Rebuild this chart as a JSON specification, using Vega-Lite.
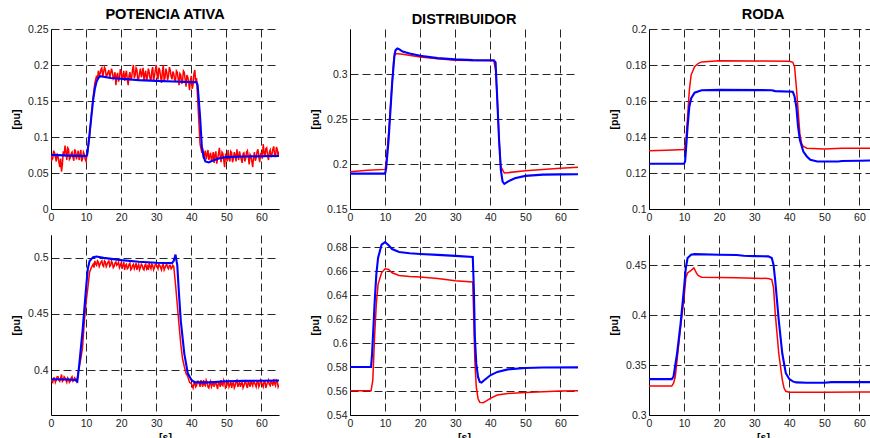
{
"$schema": "https://vega.github.io/schema/vega-lite/v6.json",
"padding": {"left": 11, "top": 6, "right": 0, "bottom": 0},
"columns": 3,
"spacing": {"row": 26, "column": 71},
"bounds": "flush",
"datasets": {
"p1": [
{"t":0,"v":0.075,"s":"medido"},{"t":0.5,"v":0.070,"s":"medido"},{"t":1,"v":0.078,"s":"medido"},{"t":1.5,"v":0.066,"s":"medido"},{"t":2,"v":0.073,"s":"medido"},{"t":2.5,"v":0.058,"s":"medido"},{"t":3,"v":0.052,"s":"medido"},{"t":3.5,"v":0.080,"s":"medido"},{"t":4,"v":0.088,"s":"medido"},{"t":4.5,"v":0.068,"s":"medido"},{"t":5,"v":0.083,"s":"medido"},{"t":5.5,"v":0.071,"s":"medido"},{"t":6,"v":0.079,"s":"medido"},{"t":6.5,"v":0.067,"s":"medido"},{"t":7,"v":0.080,"s":"medido"},{"t":7.5,"v":0.074,"s":"medido"},{"t":8,"v":0.068,"s":"medido"},{"t":8.5,"v":0.082,"s":"medido"},{"t":9,"v":0.070,"s":"medido"},{"t":9.5,"v":0.076,"s":"medido"},{"t":10,"v":0.066,"s":"medido"},{"t":10.5,"v":0.080,"s":"medido"},{"t":11,"v":0.100,"s":"medido"},{"t":11.5,"v":0.130,"s":"medido"},{"t":12,"v":0.155,"s":"medido"},{"t":12.5,"v":0.175,"s":"medido"},{"t":13,"v":0.185,"s":"medido"},{"t":13.5,"v":0.192,"s":"medido"},{"t":14,"v":0.188,"s":"medido"},{"t":14.5,"v":0.196,"s":"medido"},{"t":15,"v":0.190,"s":"medido"},{"t":15.5,"v":0.194,"s":"medido"},{"t":16,"v":0.186,"s":"medido"},{"t":16.5,"v":0.193,"s":"medido"},{"t":17,"v":0.188,"s":"medido"},{"t":17.5,"v":0.190,"s":"medido"},{"t":18,"v":0.183,"s":"medido"},{"t":18.5,"v":0.172,"s":"medido"},{"t":19,"v":0.189,"s":"medido"},{"t":19.5,"v":0.181,"s":"medido"},{"t":20,"v":0.191,"s":"medido"},{"t":20.5,"v":0.185,"s":"medido"},{"t":21,"v":0.178,"s":"medido"},{"t":21.5,"v":0.192,"s":"medido"},{"t":22,"v":0.172,"s":"medido"},{"t":22.5,"v":0.190,"s":"medido"},{"t":23,"v":0.183,"s":"medido"},{"t":23.5,"v":0.200,"s":"medido"},{"t":24,"v":0.186,"s":"medido"},{"t":24.5,"v":0.193,"s":"medido"},{"t":25,"v":0.181,"s":"medido"},{"t":25.5,"v":0.195,"s":"medido"},{"t":26,"v":0.188,"s":"medido"},{"t":26.5,"v":0.179,"s":"medido"},{"t":27,"v":0.192,"s":"medido"},{"t":27.5,"v":0.184,"s":"medido"},{"t":28,"v":0.190,"s":"medido"},{"t":28.5,"v":0.178,"s":"medido"},{"t":29,"v":0.197,"s":"medido"},{"t":29.5,"v":0.185,"s":"medido"},{"t":30,"v":0.200,"s":"medido"},{"t":30.5,"v":0.180,"s":"medido"},{"t":31,"v":0.193,"s":"medido"},{"t":31.5,"v":0.175,"s":"medido"},{"t":32,"v":0.200,"s":"medido"},{"t":32.5,"v":0.182,"s":"medido"},{"t":33,"v":0.190,"s":"medido"},{"t":33.5,"v":0.185,"s":"medido"},{"t":34,"v":0.193,"s":"medido"},{"t":34.5,"v":0.180,"s":"medido"},{"t":35,"v":0.188,"s":"medido"},{"t":35.5,"v":0.178,"s":"medido"},{"t":36,"v":0.190,"s":"medido"},{"t":36.5,"v":0.172,"s":"medido"},{"t":37,"v":0.186,"s":"medido"},{"t":37.5,"v":0.178,"s":"medido"},{"t":38,"v":0.190,"s":"medido"},{"t":38.5,"v":0.170,"s":"medido"},{"t":39,"v":0.183,"s":"medido"},{"t":39.5,"v":0.165,"s":"medido"},{"t":40,"v":0.185,"s":"medido"},{"t":40.5,"v":0.172,"s":"medido"},{"t":41,"v":0.193,"s":"medido"},{"t":41.5,"v":0.182,"s":"medido"},{"t":42,"v":0.135,"s":"medido"},{"t":42.5,"v":0.090,"s":"medido"},{"t":43,"v":0.078,"s":"medido"},{"t":43.5,"v":0.070,"s":"medido"},{"t":44,"v":0.081,"s":"medido"},{"t":44.5,"v":0.075,"s":"medido"},{"t":45,"v":0.068,"s":"medido"},{"t":45.5,"v":0.078,"s":"medido"},{"t":46,"v":0.072,"s":"medido"},{"t":46.5,"v":0.064,"s":"medido"},{"t":47,"v":0.080,"s":"medido"},{"t":47.5,"v":0.070,"s":"medido"},{"t":48,"v":0.085,"s":"medido"},{"t":48.5,"v":0.065,"s":"medido"},{"t":49,"v":0.077,"s":"medido"},{"t":49.5,"v":0.058,"s":"medido"},{"t":50,"v":0.073,"s":"medido"},{"t":50.5,"v":0.082,"s":"medido"},{"t":51,"v":0.066,"s":"medido"},{"t":51.5,"v":0.078,"s":"medido"},{"t":52,"v":0.070,"s":"medido"},{"t":52.5,"v":0.075,"s":"medido"},{"t":53,"v":0.083,"s":"medido"},{"t":53.5,"v":0.068,"s":"medido"},{"t":54,"v":0.074,"s":"medido"},{"t":54.5,"v":0.064,"s":"medido"},{"t":55,"v":0.078,"s":"medido"},{"t":55.5,"v":0.070,"s":"medido"},{"t":56,"v":0.081,"s":"medido"},{"t":56.5,"v":0.062,"s":"medido"},{"t":57,"v":0.074,"s":"medido"},{"t":57.5,"v":0.058,"s":"medido"},{"t":58,"v":0.079,"s":"medido"},{"t":58.5,"v":0.071,"s":"medido"},{"t":59,"v":0.083,"s":"medido"},{"t":59.5,"v":0.065,"s":"medido"},{"t":60,"v":0.078,"s":"medido"},{"t":60.5,"v":0.090,"s":"medido"},{"t":61,"v":0.073,"s":"medido"},{"t":61.5,"v":0.085,"s":"medido"},{"t":62,"v":0.068,"s":"medido"},{"t":62.5,"v":0.082,"s":"medido"},{"t":63,"v":0.076,"s":"medido"},{"t":63.5,"v":0.087,"s":"medido"},{"t":64,"v":0.072,"s":"medido"},{"t":64.5,"v":0.083,"s":"medido"},{"t":65,"v":0.080,"s":"medido"},
{"t":0.25,"v":0.068,"s":"medido"},{"t":0.75,"v":0.081,"s":"medido"},{"t":1.25,"v":0.072,"s":"medido"},{"t":1.75,"v":0.077,"s":"medido"},{"t":2.25,"v":0.065,"s":"medido"},{"t":2.75,"v":0.070,"s":"medido"},{"t":3.25,"v":0.062,"s":"medido"},{"t":3.75,"v":0.075,"s":"medido"},{"t":4.25,"v":0.079,"s":"medido"},{"t":4.75,"v":0.085,"s":"medido"},{"t":5.25,"v":0.069,"s":"medido"},{"t":5.75,"v":0.077,"s":"medido"},{"t":6.25,"v":0.072,"s":"medido"},{"t":6.75,"v":0.083,"s":"medido"},{"t":7.25,"v":0.069,"s":"medido"},{"t":7.75,"v":0.081,"s":"medido"},{"t":8.25,"v":0.075,"s":"medido"},{"t":8.75,"v":0.066,"s":"medido"},{"t":9.25,"v":0.079,"s":"medido"},{"t":9.75,"v":0.069,"s":"medido"},{"t":10.25,"v":0.075,"s":"medido"},
{"t":13.25,"v":0.180,"s":"medido"},{"t":13.75,"v":0.186,"s":"medido"},{"t":14.25,"v":0.194,"s":"medido"},{"t":14.75,"v":0.183,"s":"medido"},{"t":15.25,"v":0.197,"s":"medido"},{"t":15.75,"v":0.184,"s":"medido"},{"t":16.25,"v":0.190,"s":"medido"},{"t":16.75,"v":0.182,"s":"medido"},{"t":17.25,"v":0.195,"s":"medido"},{"t":17.75,"v":0.181,"s":"medido"},{"t":18.25,"v":0.190,"s":"medido"},{"t":18.75,"v":0.185,"s":"medido"},{"t":19.25,"v":0.177,"s":"medido"},{"t":19.75,"v":0.194,"s":"medido"},{"t":20.25,"v":0.179,"s":"medido"},{"t":20.75,"v":0.192,"s":"medido"},{"t":21.25,"v":0.186,"s":"medido"},{"t":21.75,"v":0.180,"s":"medido"},{"t":22.25,"v":0.185,"s":"medido"},{"t":22.75,"v":0.179,"s":"medido"},{"t":23.25,"v":0.194,"s":"medido"},{"t":23.75,"v":0.182,"s":"medido"},{"t":24.25,"v":0.196,"s":"medido"},{"t":24.75,"v":0.178,"s":"medido"},{"t":25.25,"v":0.189,"s":"medido"},{"t":25.75,"v":0.183,"s":"medido"},{"t":26.25,"v":0.196,"s":"medido"},{"t":26.75,"v":0.187,"s":"medido"},{"t":27.25,"v":0.178,"s":"medido"},{"t":27.75,"v":0.195,"s":"medido"},{"t":28.25,"v":0.181,"s":"medido"},{"t":28.75,"v":0.192,"s":"medido"},{"t":29.25,"v":0.178,"s":"medido"},{"t":29.75,"v":0.193,"s":"medido"},{"t":30.25,"v":0.186,"s":"medido"},{"t":30.75,"v":0.196,"s":"medido"},{"t":31.25,"v":0.184,"s":"medido"},{"t":31.75,"v":0.190,"s":"medido"},{"t":32.25,"v":0.178,"s":"medido"},{"t":32.75,"v":0.195,"s":"medido"},{"t":33.25,"v":0.179,"s":"medido"},{"t":33.75,"v":0.197,"s":"medido"},{"t":34.25,"v":0.184,"s":"medido"},{"t":34.75,"v":0.191,"s":"medido"},{"t":35.25,"v":0.179,"s":"medido"},{"t":35.75,"v":0.192,"s":"medido"},{"t":36.25,"v":0.181,"s":"medido"},{"t":36.75,"v":0.188,"s":"medido"},{"t":37.25,"v":0.174,"s":"medido"},{"t":37.75,"v":0.192,"s":"medido"},{"t":38.25,"v":0.180,"s":"medido"},{"t":38.75,"v":0.186,"s":"medido"},{"t":39.25,"v":0.176,"s":"medido"},{"t":39.75,"v":0.179,"s":"medido"},{"t":40.25,"v":0.167,"s":"medido"},{"t":40.75,"v":0.188,"s":"medido"},{"t":41.25,"v":0.176,"s":"medido"},
{"t":43.25,"v":0.084,"s":"medido"},{"t":43.75,"v":0.076,"s":"medido"},{"t":44.25,"v":0.069,"s":"medido"},{"t":44.75,"v":0.082,"s":"medido"},{"t":45.25,"v":0.074,"s":"medido"},{"t":45.75,"v":0.066,"s":"medido"},{"t":46.25,"v":0.079,"s":"medido"},{"t":46.75,"v":0.075,"s":"medido"},{"t":47.25,"v":0.063,"s":"medido"},{"t":47.75,"v":0.077,"s":"medido"},{"t":48.25,"v":0.072,"s":"medido"},{"t":48.75,"v":0.079,"s":"medido"},{"t":49.25,"v":0.068,"s":"medido"},{"t":49.75,"v":0.075,"s":"medido"},{"t":50.25,"v":0.066,"s":"medido"},{"t":50.75,"v":0.070,"s":"medido"},{"t":51.25,"v":0.080,"s":"medido"},{"t":51.75,"v":0.065,"s":"medido"},{"t":52.25,"v":0.079,"s":"medido"},{"t":52.75,"v":0.066,"s":"medido"},{"t":53.25,"v":0.074,"s":"medido"},{"t":53.75,"v":0.080,"s":"medido"},{"t":54.25,"v":0.069,"s":"medido"},{"t":54.75,"v":0.077,"s":"medido"},{"t":55.25,"v":0.066,"s":"medido"},{"t":55.75,"v":0.079,"s":"medido"},{"t":56.25,"v":0.072,"s":"medido"},{"t":56.75,"v":0.076,"s":"medido"},{"t":57.25,"v":0.066,"s":"medido"},{"t":57.75,"v":0.072,"s":"medido"},{"t":58.25,"v":0.067,"s":"medido"},{"t":58.75,"v":0.080,"s":"medido"},{"t":59.25,"v":0.072,"s":"medido"},{"t":59.75,"v":0.077,"s":"medido"},{"t":60.25,"v":0.070,"s":"medido"},{"t":60.75,"v":0.079,"s":"medido"},{"t":61.25,"v":0.084,"s":"medido"},{"t":61.75,"v":0.074,"s":"medido"},{"t":62.25,"v":0.079,"s":"medido"},{"t":62.75,"v":0.072,"s":"medido"},{"t":63.25,"v":0.083,"s":"medido"},{"t":63.75,"v":0.075,"s":"medido"},{"t":64.25,"v":0.086,"s":"medido"},{"t":64.75,"v":0.074,"s":"medido"},
{"t":0,"v":0.0752,"s":"simulado"},{"t":2,"v":0.0748,"s":"simulado"},{"t":5,"v":0.0742,"s":"simulado"},{"t":8,"v":0.0738,"s":"simulado"},{"t":10,"v":0.0735,"s":"simulado"},{"t":10.3,"v":0.075,"s":"simulado"},{"t":10.6,"v":0.088,"s":"simulado"},{"t":11,"v":0.105,"s":"simulado"},{"t":11.5,"v":0.128,"s":"simulado"},{"t":12,"v":0.151,"s":"simulado"},{"t":12.5,"v":0.167,"s":"simulado"},{"t":13,"v":0.177,"s":"simulado"},{"t":13.5,"v":0.182,"s":"simulado"},{"t":14,"v":0.1845,"s":"simulado"},{"t":15,"v":0.1836,"s":"simulado"},{"t":17,"v":0.182,"s":"simulado"},{"t":20,"v":0.1808,"s":"simulado"},{"t":25,"v":0.179,"s":"simulado"},{"t":30,"v":0.178,"s":"simulado"},{"t":35,"v":0.177,"s":"simulado"},{"t":40,"v":0.1762,"s":"simulado"},{"t":41.5,"v":0.176,"s":"simulado"},{"t":41.8,"v":0.172,"s":"simulado"},{"t":42,"v":0.16,"s":"simulado"},{"t":42.5,"v":0.128,"s":"simulado"},{"t":43,"v":0.0867,"s":"simulado"},{"t":43.5,"v":0.073,"s":"simulado"},{"t":44,"v":0.066,"s":"simulado"},{"t":45,"v":0.0646,"s":"simulado"},{"t":46,"v":0.067,"s":"simulado"},{"t":48,"v":0.0706,"s":"simulado"},{"t":50,"v":0.072,"s":"simulado"},{"t":55,"v":0.0729,"s":"simulado"},{"t":60,"v":0.0733,"s":"simulado"},{"t":65,"v":0.0738,"s":"simulado"}
],
"p2": [
{"t":0,"v":0.1915,"s":"medido"},{"t":5,"v":0.193,"s":"medido"},{"t":10,"v":0.194,"s":"medido"},{"t":10.3,"v":0.2,"s":"medido"},{"t":11,"v":0.234,"s":"medido"},{"t":12,"v":0.289,"s":"medido"},{"t":12.5,"v":0.318,"s":"medido"},{"t":13,"v":0.3228,"s":"medido"},{"t":15,"v":0.322,"s":"medido"},{"t":20,"v":0.319,"s":"medido"},{"t":25,"v":0.317,"s":"medido"},{"t":30,"v":0.3154,"s":"medido"},{"t":35,"v":0.315,"s":"medido"},{"t":41,"v":0.3147,"s":"medido"},{"t":41.5,"v":0.305,"s":"medido"},{"t":42,"v":0.27,"s":"medido"},{"t":42.5,"v":0.2265,"s":"medido"},{"t":43,"v":0.197,"s":"medido"},{"t":44,"v":0.19,"s":"medido"},{"t":45,"v":0.1904,"s":"medido"},{"t":50,"v":0.1926,"s":"medido"},{"t":55,"v":0.194,"s":"medido"},{"t":60,"v":0.1952,"s":"medido"},{"t":65,"v":0.1963,"s":"medido"},
{"t":0,"v":0.1893,"s":"simulado"},{"t":10,"v":0.1893,"s":"simulado"},{"t":10.3,"v":0.195,"s":"simulado"},{"t":11,"v":0.2265,"s":"simulado"},{"t":12,"v":0.289,"s":"simulado"},{"t":12.7,"v":0.322,"s":"simulado"},{"t":13,"v":0.3265,"s":"simulado"},{"t":13.5,"v":0.3283,"s":"simulado"},{"t":14,"v":0.3276,"s":"simulado"},{"t":15,"v":0.325,"s":"simulado"},{"t":17,"v":0.3228,"s":"simulado"},{"t":20,"v":0.3202,"s":"simulado"},{"t":25,"v":0.3176,"s":"simulado"},{"t":30,"v":0.3162,"s":"simulado"},{"t":35,"v":0.3154,"s":"simulado"},{"t":41,"v":0.3152,"s":"simulado"},{"t":41.5,"v":0.313,"s":"simulado"},{"t":42,"v":0.2706,"s":"simulado"},{"t":42.5,"v":0.2265,"s":"simulado"},{"t":43,"v":0.1934,"s":"simulado"},{"t":43.5,"v":0.1805,"s":"simulado"},{"t":44,"v":0.178,"s":"simulado"},{"t":45,"v":0.1805,"s":"simulado"},{"t":47,"v":0.1842,"s":"simulado"},{"t":50,"v":0.1868,"s":"simulado"},{"t":55,"v":0.1882,"s":"simulado"},{"t":60,"v":0.1885,"s":"simulado"},{"t":65,"v":0.1886,"s":"simulado"}
],
"p3": [
{"t":0,"v":0.1323,"s":"medido"},{"t":5,"v":0.1326,"s":"medido"},{"t":10,"v":0.133,"s":"medido"},{"t":10.5,"v":0.1365,"s":"medido"},{"t":11,"v":0.1513,"s":"medido"},{"t":11.5,"v":0.166,"s":"medido"},{"t":12,"v":0.1744,"s":"medido"},{"t":13,"v":0.179,"s":"medido"},{"t":14,"v":0.1808,"s":"medido"},{"t":15,"v":0.1817,"s":"medido"},{"t":20,"v":0.1823,"s":"medido"},{"t":30,"v":0.1822,"s":"medido"},{"t":40,"v":0.1821,"s":"medido"},{"t":41,"v":0.1815,"s":"medido"},{"t":41.5,"v":0.179,"s":"medido"},{"t":42,"v":0.1679,"s":"medido"},{"t":42.5,"v":0.155,"s":"medido"},{"t":43,"v":0.142,"s":"medido"},{"t":43.5,"v":0.1365,"s":"medido"},{"t":44,"v":0.1347,"s":"medido"},{"t":45,"v":0.1338,"s":"medido"},{"t":50,"v":0.1334,"s":"medido"},{"t":55,"v":0.1337,"s":"medido"},{"t":65,"v":0.1338,"s":"medido"},
{"t":0,"v":0.1251,"s":"simulado"},{"t":10,"v":0.1251,"s":"simulado"},{"t":10.3,"v":0.1265,"s":"simulado"},{"t":11,"v":0.1458,"s":"simulado"},{"t":11.5,"v":0.1568,"s":"simulado"},{"t":12,"v":0.1614,"s":"simulado"},{"t":13,"v":0.1646,"s":"simulado"},{"t":15,"v":0.166,"s":"simulado"},{"t":20,"v":0.1662,"s":"simulado"},{"t":35,"v":0.166,"s":"simulado"},{"t":36,"v":0.1655,"s":"simulado"},{"t":41,"v":0.1651,"s":"simulado"},{"t":41.5,"v":0.1625,"s":"simulado"},{"t":42,"v":0.1568,"s":"simulado"},{"t":42.5,"v":0.1458,"s":"simulado"},{"t":43,"v":0.1384,"s":"simulado"},{"t":44,"v":0.1319,"s":"simulado"},{"t":45,"v":0.1292,"s":"simulado"},{"t":46,"v":0.1273,"s":"simulado"},{"t":48,"v":0.1264,"s":"simulado"},{"t":54,"v":0.1264,"s":"simulado"},{"t":55,"v":0.1267,"s":"simulado"},{"t":60,"v":0.1268,"s":"simulado"},{"t":65,"v":0.127,"s":"simulado"}
],
"p4": [
{"t":0,"v":0.392,"s":"medido"},{"t":0.5,"v":0.389,"s":"medido"},{"t":1,"v":0.393,"s":"medido"},{"t":1.5,"v":0.391,"s":"medido"},{"t":2,"v":0.394,"s":"medido"},{"t":2.5,"v":0.390,"s":"medido"},{"t":3,"v":0.396,"s":"medido"},{"t":3.5,"v":0.391,"s":"medido"},{"t":4,"v":0.393,"s":"medido"},{"t":4.5,"v":0.389,"s":"medido"},{"t":5,"v":0.392,"s":"medido"},{"t":5.5,"v":0.390,"s":"medido"},{"t":6,"v":0.394,"s":"medido"},{"t":6.5,"v":0.391,"s":"medido"},{"t":7,"v":0.392,"s":"medido"},{"t":7.5,"v":0.393,"s":"medido"},{"t":8,"v":0.402,"s":"medido"},{"t":8.5,"v":0.41,"s":"medido"},{"t":9,"v":0.42,"s":"medido"},{"t":9.5,"v":0.443,"s":"medido"},{"t":10,"v":0.46,"s":"medido"},{"t":10.5,"v":0.473,"s":"medido"},{"t":11,"v":0.487,"s":"medido"},{"t":11.5,"v":0.491,"s":"medido"},{"t":12,"v":0.494,"s":"medido"},{"t":12.5,"v":0.497,"s":"medido"},{"t":13,"v":0.493,"s":"medido"},{"t":13.5,"v":0.496,"s":"medido"},{"t":14,"v":0.494,"s":"medido"},{"t":14.5,"v":0.497,"s":"medido"},{"t":15,"v":0.492,"s":"medido"},{"t":15.5,"v":0.496,"s":"medido"},{"t":16,"v":0.494,"s":"medido"},{"t":16.5,"v":0.497,"s":"medido"},{"t":17,"v":0.493,"s":"medido"},{"t":17.5,"v":0.495,"s":"medido"},{"t":18,"v":0.492,"s":"medido"},{"t":18.5,"v":0.496,"s":"medido"},{"t":19,"v":0.494,"s":"medido"},{"t":19.5,"v":0.491,"s":"medido"},{"t":20,"v":0.495,"s":"medido"},{"t":20.5,"v":0.493,"s":"medido"},{"t":21,"v":0.489,"s":"medido"},{"t":21.5,"v":0.494,"s":"medido"},{"t":22,"v":0.491,"s":"medido"},{"t":22.5,"v":0.495,"s":"medido"},{"t":23,"v":0.490,"s":"medido"},{"t":23.5,"v":0.494,"s":"medido"},{"t":24,"v":0.492,"s":"medido"},{"t":24.5,"v":0.489,"s":"medido"},{"t":25,"v":0.494,"s":"medido"},{"t":25.5,"v":0.491,"s":"medido"},{"t":26,"v":0.493,"s":"medido"},{"t":26.5,"v":0.489,"s":"medido"},{"t":27,"v":0.494,"s":"medido"},{"t":27.5,"v":0.492,"s":"medido"},{"t":28,"v":0.495,"s":"medido"},{"t":28.5,"v":0.490,"s":"medido"},{"t":29,"v":0.493,"s":"medido"},{"t":29.5,"v":0.491,"s":"medido"},{"t":30,"v":0.494,"s":"medido"},{"t":30.5,"v":0.490,"s":"medido"},{"t":31,"v":0.493,"s":"medido"},{"t":31.5,"v":0.489,"s":"medido"},{"t":32,"v":0.494,"s":"medido"},{"t":32.5,"v":0.491,"s":"medido"},{"t":33,"v":0.494,"s":"medido"},{"t":33.5,"v":0.490,"s":"medido"},{"t":34,"v":0.493,"s":"medido"},{"t":34.5,"v":0.491,"s":"medido"},{"t":35,"v":0.492,"s":"medido"},{"t":35.5,"v":0.476,"s":"medido"},{"t":36,"v":0.458,"s":"medido"},{"t":36.5,"v":0.440,"s":"medido"},{"t":37,"v":0.423,"s":"medido"},{"t":37.5,"v":0.410,"s":"medido"},{"t":38,"v":0.403,"s":"medido"},{"t":38.5,"v":0.397,"s":"medido"},{"t":39,"v":0.394,"s":"medido"},{"t":39.5,"v":0.389,"s":"medido"},{"t":40,"v":0.388,"s":"medido"},{"t":40.5,"v":0.384,"s":"medido"},{"t":41,"v":0.389,"s":"medido"},{"t":41.5,"v":0.386,"s":"medido"},{"t":42,"v":0.390,"s":"medido"},{"t":42.5,"v":0.385,"s":"medido"},{"t":43,"v":0.388,"s":"medido"},{"t":43.5,"v":0.391,"s":"medido"},{"t":44,"v":0.386,"s":"medido"},{"t":44.5,"v":0.389,"s":"medido"},{"t":45,"v":0.384,"s":"medido"},{"t":45.5,"v":0.390,"s":"medido"},{"t":46,"v":0.387,"s":"medido"},{"t":46.5,"v":0.385,"s":"medido"},{"t":47,"v":0.389,"s":"medido"},{"t":47.5,"v":0.383,"s":"medido"},{"t":48,"v":0.388,"s":"medido"},{"t":48.5,"v":0.391,"s":"medido"},{"t":49,"v":0.386,"s":"medido"},{"t":49.5,"v":0.389,"s":"medido"},{"t":50,"v":0.385,"s":"medido"},{"t":50.5,"v":0.390,"s":"medido"},{"t":51,"v":0.387,"s":"medido"},{"t":51.5,"v":0.384,"s":"medido"},{"t":52,"v":0.389,"s":"medido"},{"t":52.5,"v":0.386,"s":"medido"},{"t":53,"v":0.391,"s":"medido"},{"t":53.5,"v":0.387,"s":"medido"},{"t":54,"v":0.385,"s":"medido"},{"t":54.5,"v":0.389,"s":"medido"},{"t":55,"v":0.386,"s":"medido"},{"t":55.5,"v":0.390,"s":"medido"},{"t":56,"v":0.384,"s":"medido"},{"t":56.5,"v":0.388,"s":"medido"},{"t":57,"v":0.391,"s":"medido"},{"t":57.5,"v":0.386,"s":"medido"},{"t":58,"v":0.389,"s":"medido"},{"t":58.5,"v":0.385,"s":"medido"},{"t":59,"v":0.390,"s":"medido"},{"t":59.5,"v":0.387,"s":"medido"},{"t":60,"v":0.389,"s":"medido"},{"t":60.5,"v":0.385,"s":"medido"},{"t":61,"v":0.390,"s":"medido"},{"t":61.5,"v":0.387,"s":"medido"},{"t":62,"v":0.391,"s":"medido"},{"t":62.5,"v":0.386,"s":"medido"},{"t":63,"v":0.389,"s":"medido"},{"t":63.5,"v":0.392,"s":"medido"},{"t":64,"v":0.386,"s":"medido"},{"t":64.5,"v":0.390,"s":"medido"},{"t":65,"v":0.387,"s":"medido"},
{"t":0.25,"v":0.390,"s":"medido"},{"t":0.75,"v":0.393,"s":"medido"},{"t":1.25,"v":0.389,"s":"medido"},{"t":1.75,"v":0.394,"s":"medido"},{"t":2.25,"v":0.391,"s":"medido"},{"t":2.75,"v":0.393,"s":"medido"},{"t":3.25,"v":0.390,"s":"medido"},{"t":3.75,"v":0.394,"s":"medido"},{"t":4.25,"v":0.391,"s":"medido"},{"t":4.75,"v":0.393,"s":"medido"},{"t":5.25,"v":0.389,"s":"medido"},{"t":5.75,"v":0.393,"s":"medido"},{"t":6.25,"v":0.390,"s":"medido"},{"t":6.75,"v":0.393,"s":"medido"},{"t":7.25,"v":0.390,"s":"medido"},
{"t":12.25,"v":0.491,"s":"medido"},{"t":12.75,"v":0.494,"s":"medido"},{"t":13.25,"v":0.497,"s":"medido"},{"t":13.75,"v":0.492,"s":"medido"},{"t":14.25,"v":0.496,"s":"medido"},{"t":14.75,"v":0.493,"s":"medido"},{"t":15.25,"v":0.497,"s":"medido"},{"t":15.75,"v":0.492,"s":"medido"},{"t":16.25,"v":0.496,"s":"medido"},{"t":16.75,"v":0.492,"s":"medido"},{"t":17.25,"v":0.497,"s":"medido"},{"t":17.75,"v":0.491,"s":"medido"},{"t":18.25,"v":0.495,"s":"medido"},{"t":18.75,"v":0.493,"s":"medido"},{"t":19.25,"v":0.496,"s":"medido"},{"t":19.75,"v":0.493,"s":"medido"},{"t":20.25,"v":0.490,"s":"medido"},{"t":20.75,"v":0.496,"s":"medido"},{"t":21.25,"v":0.493,"s":"medido"},{"t":21.75,"v":0.490,"s":"medido"},{"t":22.25,"v":0.494,"s":"medido"},{"t":22.75,"v":0.489,"s":"medido"},{"t":23.25,"v":0.493,"s":"medido"},{"t":23.75,"v":0.490,"s":"medido"},{"t":24.25,"v":0.495,"s":"medido"},{"t":24.75,"v":0.492,"s":"medido"},{"t":25.25,"v":0.489,"s":"medido"},{"t":25.75,"v":0.494,"s":"medido"},{"t":26.25,"v":0.490,"s":"medido"},{"t":26.75,"v":0.493,"s":"medido"},{"t":27.25,"v":0.490,"s":"medido"},{"t":27.75,"v":0.489,"s":"medido"},{"t":28.25,"v":0.492,"s":"medido"},{"t":28.75,"v":0.494,"s":"medido"},{"t":29.25,"v":0.489,"s":"medido"},{"t":29.75,"v":0.494,"s":"medido"},{"t":30.25,"v":0.492,"s":"medido"},{"t":30.75,"v":0.494,"s":"medido"},{"t":31.25,"v":0.491,"s":"medido"},{"t":31.75,"v":0.493,"s":"medido"},{"t":32.25,"v":0.489,"s":"medido"},{"t":32.75,"v":0.493,"s":"medido"},{"t":33.25,"v":0.491,"s":"medido"},{"t":33.75,"v":0.493,"s":"medido"},{"t":34.25,"v":0.490,"s":"medido"},{"t":34.75,"v":0.493,"s":"medido"},
{"t":40.75,"v":0.388,"s":"medido"},{"t":41.25,"v":0.385,"s":"medido"},{"t":41.75,"v":0.390,"s":"medido"},{"t":42.25,"v":0.388,"s":"medido"},{"t":42.75,"v":0.391,"s":"medido"},{"t":43.25,"v":0.385,"s":"medido"},{"t":43.75,"v":0.387,"s":"medido"},{"t":44.25,"v":0.391,"s":"medido"},{"t":44.75,"v":0.385,"s":"medido"},{"t":45.25,"v":0.388,"s":"medido"},{"t":45.75,"v":0.385,"s":"medido"},{"t":46.25,"v":0.390,"s":"medido"},{"t":46.75,"v":0.388,"s":"medido"},{"t":47.25,"v":0.386,"s":"medido"},{"t":47.75,"v":0.390,"s":"medido"},{"t":48.25,"v":0.385,"s":"medido"},{"t":48.75,"v":0.387,"s":"medido"},{"t":49.25,"v":0.391,"s":"medido"},{"t":49.75,"v":0.384,"s":"medido"},{"t":50.25,"v":0.388,"s":"medido"},{"t":50.75,"v":0.385,"s":"medido"},{"t":51.25,"v":0.390,"s":"medido"},{"t":51.75,"v":0.388,"s":"medido"},{"t":52.25,"v":0.384,"s":"medido"},{"t":52.75,"v":0.390,"s":"medido"},{"t":53.25,"v":0.385,"s":"medido"},{"t":53.75,"v":0.390,"s":"medido"},{"t":54.25,"v":0.388,"s":"medido"},{"t":54.75,"v":0.384,"s":"medido"},{"t":55.25,"v":0.389,"s":"medido"},{"t":55.75,"v":0.386,"s":"medido"},{"t":56.25,"v":0.390,"s":"medido"},{"t":56.75,"v":0.385,"s":"medido"},{"t":57.25,"v":0.388,"s":"medido"},{"t":57.75,"v":0.390,"s":"medido"},{"t":58.25,"v":0.387,"s":"medido"},{"t":58.75,"v":0.390,"s":"medido"},{"t":59.25,"v":0.385,"s":"medido"},{"t":59.75,"v":0.391,"s":"medido"},{"t":60.25,"v":0.387,"s":"medido"},{"t":60.75,"v":0.390,"s":"medido"},{"t":61.25,"v":0.384,"s":"medido"},{"t":61.75,"v":0.389,"s":"medido"},{"t":62.25,"v":0.387,"s":"medido"},{"t":62.75,"v":0.390,"s":"medido"},{"t":63.25,"v":0.386,"s":"medido"},{"t":63.75,"v":0.388,"s":"medido"},{"t":64.25,"v":0.391,"s":"medido"},{"t":64.75,"v":0.385,"s":"medido"},
{"t":0,"v":0.3918,"s":"simulado"},{"t":5,"v":0.3915,"s":"simulado"},{"t":7,"v":0.391,"s":"simulado"},{"t":7.5,"v":0.3898,"s":"simulado"},{"t":8,"v":0.403,"s":"simulado"},{"t":9,"v":0.435,"s":"simulado"},{"t":10,"v":0.473,"s":"simulado"},{"t":10.5,"v":0.49,"s":"simulado"},{"t":11,"v":0.4968,"s":"simulado"},{"t":12,"v":0.5003,"s":"simulado"},{"t":13,"v":0.5009,"s":"simulado"},{"t":15,"v":0.4997,"s":"simulado"},{"t":20,"v":0.4977,"s":"simulado"},{"t":25,"v":0.4962,"s":"simulado"},{"t":30,"v":0.4953,"s":"simulado"},{"t":34.5,"v":0.495,"s":"simulado"},{"t":35,"v":0.497,"s":"simulado"},{"t":35.5,"v":0.5026,"s":"simulado"},{"t":36,"v":0.493,"s":"simulado"},{"t":36.5,"v":0.467,"s":"simulado"},{"t":37,"v":0.4437,"s":"simulado"},{"t":38,"v":0.4146,"s":"simulado"},{"t":39,"v":0.397,"s":"simulado"},{"t":40,"v":0.3913,"s":"simulado"},{"t":41,"v":0.389,"s":"simulado"},{"t":45,"v":0.389,"s":"simulado"},{"t":50,"v":0.39,"s":"simulado"},{"t":55,"v":0.3903,"s":"simulado"},{"t":60,"v":0.3905,"s":"simulado"},{"t":65,"v":0.3907,"s":"simulado"}
],
"p5": [
{"t":0,"v":0.5602,"s":"medido"},{"t":6,"v":0.5602,"s":"medido"},{"t":6.5,"v":0.569,"s":"medido"},{"t":7,"v":0.6048,"s":"medido"},{"t":7.5,"v":0.6323,"s":"medido"},{"t":8,"v":0.6489,"s":"medido"},{"t":9,"v":0.6585,"s":"medido"},{"t":10,"v":0.6618,"s":"medido"},{"t":11,"v":0.6613,"s":"medido"},{"t":12,"v":0.6585,"s":"medido"},{"t":14,"v":0.6563,"s":"medido"},{"t":17,"v":0.6555,"s":"medido"},{"t":20,"v":0.6549,"s":"medido"},{"t":25,"v":0.6538,"s":"medido"},{"t":30,"v":0.6519,"s":"medido"},{"t":35,"v":0.6508,"s":"medido"},{"t":35.3,"v":0.6186,"s":"medido"},{"t":35.6,"v":0.585,"s":"medido"},{"t":36,"v":0.5635,"s":"medido"},{"t":36.5,"v":0.5538,"s":"medido"},{"t":37,"v":0.5505,"s":"medido"},{"t":38,"v":0.5503,"s":"medido"},{"t":39,"v":0.5519,"s":"medido"},{"t":40,"v":0.5538,"s":"medido"},{"t":42,"v":0.5566,"s":"medido"},{"t":45,"v":0.558,"s":"medido"},{"t":50,"v":0.5588,"s":"medido"},{"t":55,"v":0.5593,"s":"medido"},{"t":60,"v":0.5599,"s":"medido"},{"t":65,"v":0.5602,"s":"medido"},
{"t":0,"v":0.58,"s":"simulado"},{"t":6,"v":0.58,"s":"simulado"},{"t":6.3,"v":0.591,"s":"simulado"},{"t":7,"v":0.6323,"s":"simulado"},{"t":7.5,"v":0.657,"s":"simulado"},{"t":8,"v":0.6709,"s":"simulado"},{"t":9,"v":0.6819,"s":"simulado"},{"t":10,"v":0.6841,"s":"simulado"},{"t":11,"v":0.6814,"s":"simulado"},{"t":12,"v":0.6783,"s":"simulado"},{"t":14,"v":0.6759,"s":"simulado"},{"t":17,"v":0.6748,"s":"simulado"},{"t":20,"v":0.6742,"s":"simulado"},{"t":25,"v":0.6734,"s":"simulado"},{"t":30,"v":0.6726,"s":"simulado"},{"t":35,"v":0.6717,"s":"simulado"},{"t":35.3,"v":0.6461,"s":"simulado"},{"t":35.6,"v":0.605,"s":"simulado"},{"t":36,"v":0.5828,"s":"simulado"},{"t":36.5,"v":0.5717,"s":"simulado"},{"t":37,"v":0.5676,"s":"simulado"},{"t":37.5,"v":0.567,"s":"simulado"},{"t":38,"v":0.5684,"s":"simulado"},{"t":40,"v":0.5731,"s":"simulado"},{"t":42,"v":0.5759,"s":"simulado"},{"t":45,"v":0.578,"s":"simulado"},{"t":50,"v":0.5792,"s":"simulado"},{"t":55,"v":0.5796,"s":"simulado"},{"t":65,"v":0.5797,"s":"simulado"}
],
"p6": [
{"t":0,"v":0.3289,"s":"medido"},{"t":6.5,"v":0.3289,"s":"medido"},{"t":7,"v":0.3319,"s":"medido"},{"t":7.5,"v":0.3385,"s":"medido"},{"t":8,"v":0.3549,"s":"medido"},{"t":9,"v":0.3878,"s":"medido"},{"t":10,"v":0.4174,"s":"medido"},{"t":10.5,"v":0.4372,"s":"medido"},{"t":11,"v":0.4421,"s":"medido"},{"t":12,"v":0.4447,"s":"medido"},{"t":12.8,"v":0.447,"s":"medido"},{"t":13.5,"v":0.4421,"s":"medido"},{"t":14,"v":0.4395,"s":"medido"},{"t":15,"v":0.4378,"s":"medido"},{"t":20,"v":0.4375,"s":"medido"},{"t":25,"v":0.4372,"s":"medido"},{"t":30,"v":0.4368,"s":"medido"},{"t":34,"v":0.4365,"s":"medido"},{"t":35,"v":0.4355,"s":"medido"},{"t":35.5,"v":0.4273,"s":"medido"},{"t":36,"v":0.401,"s":"medido"},{"t":37,"v":0.3615,"s":"medido"},{"t":38,"v":0.3352,"s":"medido"},{"t":38.5,"v":0.327,"s":"medido"},{"t":39,"v":0.3237,"s":"medido"},{"t":40,"v":0.3227,"s":"medido"},{"t":45,"v":0.3227,"s":"medido"},{"t":50,"v":0.3227,"s":"medido"},{"t":60,"v":0.3229,"s":"medido"},{"t":65,"v":0.323,"s":"medido"},
{"t":0,"v":0.3359,"s":"simulado"},{"t":6.5,"v":0.3359,"s":"simulado"},{"t":7,"v":0.3385,"s":"simulado"},{"t":8,"v":0.3615,"s":"simulado"},{"t":9,"v":0.3911,"s":"simulado"},{"t":10,"v":0.4273,"s":"simulado"},{"t":10.5,"v":0.447,"s":"simulado"},{"t":11,"v":0.4569,"s":"simulado"},{"t":12,"v":0.4602,"s":"simulado"},{"t":13,"v":0.4609,"s":"simulado"},{"t":20,"v":0.4602,"s":"simulado"},{"t":25,"v":0.46,"s":"simulado"},{"t":27,"v":0.4592,"s":"simulado"},{"t":30,"v":0.4589,"s":"simulado"},{"t":34,"v":0.4586,"s":"simulado"},{"t":35,"v":0.4569,"s":"simulado"},{"t":35.5,"v":0.4503,"s":"simulado"},{"t":36,"v":0.4339,"s":"simulado"},{"t":37,"v":0.3944,"s":"simulado"},{"t":38,"v":0.3615,"s":"simulado"},{"t":39,"v":0.3418,"s":"simulado"},{"t":40,"v":0.3359,"s":"simulado"},{"t":41,"v":0.3336,"s":"simulado"},{"t":42,"v":0.3326,"s":"simulado"},{"t":45,"v":0.3322,"s":"simulado"},{"t":50,"v":0.3322,"s":"simulado"},{"t":52,"v":0.3329,"s":"simulado"},{"t":65,"v":0.3329,"s":"simulado"}
]
},
"concat": [
{"title": "POTENCIA ATIVA", "width": 228, "height": 180, "data": {"name": "p1"}, "mark": {"type": "line", "clip": true},
 "encoding": {
  "x": {"field": "t", "type": "quantitative", "scale": {"domain": [0, 65], "nice": false}, "axis": {"values": [0,10,20,30,40,50,60], "title": null}},
  "y": {"field": "v", "type": "quantitative", "scale": {"domain": [0, 0.25], "nice": false, "zero": false}, "axis": {"values": [0,0.05,0.1,0.15,0.2,0.25], "format": "~g", "title": "[pu]"}},
  "color": {"field": "s", "type": "nominal", "scale": {"domain": ["medido","simulado"], "range": ["#ff0000","#0000ff"]}, "legend": null},
  "strokeWidth": {"field": "s", "type": "nominal", "scale": {"domain": ["medido","simulado"], "range": [1.5, 2.1]}, "legend": null}
 }},
{"title": "DISTRIBUIDOR", "width": 228, "height": 180, "data": {"name": "p2"}, "mark": {"type": "line", "clip": true},
 "encoding": {
  "x": {"field": "t", "type": "quantitative", "scale": {"domain": [0, 65], "nice": false}, "axis": {"values": [0,10,20,30,40,50,60], "title": null}},
  "y": {"field": "v", "type": "quantitative", "scale": {"domain": [0.15, 0.35], "nice": false, "zero": false}, "axis": {"values": [0.15,0.2,0.25,0.3], "format": "~g", "title": "[pu]"}},
  "color": {"field": "s", "type": "nominal", "scale": {"domain": ["medido","simulado"], "range": ["#ff0000","#0000ff"]}, "legend": null},
  "strokeWidth": {"field": "s", "type": "nominal", "scale": {"domain": ["medido","simulado"], "range": [1.5, 2.1]}, "legend": null}
 }},
{"title": "RODA", "width": 228, "height": 180, "data": {"name": "p3"}, "mark": {"type": "line", "clip": true},
 "encoding": {
  "x": {"field": "t", "type": "quantitative", "scale": {"domain": [0, 65], "nice": false}, "axis": {"values": [0,10,20,30,40,50,60], "title": null}},
  "y": {"field": "v", "type": "quantitative", "scale": {"domain": [0.1, 0.2], "nice": false, "zero": false}, "axis": {"values": [0.1,0.12,0.14,0.16,0.18,0.2], "format": "~g", "title": "[pu]"}},
  "color": {"field": "s", "type": "nominal", "scale": {"domain": ["medido","simulado"], "range": ["#ff0000","#0000ff"]}, "legend": null},
  "strokeWidth": {"field": "s", "type": "nominal", "scale": {"domain": ["medido","simulado"], "range": [1.5, 2.1]}, "legend": null}
 }},
{"width": 228, "height": 180, "data": {"name": "p4"}, "mark": {"type": "line", "clip": true},
 "encoding": {
  "x": {"field": "t", "type": "quantitative", "scale": {"domain": [0, 65], "nice": false}, "axis": {"values": [0,10,20,30,40,50,60], "title": "[s]"}},
  "y": {"field": "v", "type": "quantitative", "scale": {"domain": [0.36, 0.52], "nice": false, "zero": false}, "axis": {"values": [0.4,0.45,0.5], "format": "~g", "title": "[pu]"}},
  "color": {"field": "s", "type": "nominal", "scale": {"domain": ["medido","simulado"], "range": ["#ff0000","#0000ff"]}, "legend": null},
  "strokeWidth": {"field": "s", "type": "nominal", "scale": {"domain": ["medido","simulado"], "range": [1.5, 2.1]}, "legend": null}
 }},
{"width": 228, "height": 180, "data": {"name": "p5"}, "mark": {"type": "line", "clip": true},
 "encoding": {
  "x": {"field": "t", "type": "quantitative", "scale": {"domain": [0, 65], "nice": false}, "axis": {"values": [0,10,20,30,40,50,60], "title": "[s]"}},
  "y": {"field": "v", "type": "quantitative", "scale": {"domain": [0.54, 0.69], "nice": false, "zero": false}, "axis": {"values": [0.54,0.56,0.58,0.6,0.62,0.64,0.66,0.68], "format": "~g", "title": "[pu]"}},
  "color": {"field": "s", "type": "nominal", "scale": {"domain": ["medido","simulado"], "range": ["#ff0000","#0000ff"]}, "legend": null},
  "strokeWidth": {"field": "s", "type": "nominal", "scale": {"domain": ["medido","simulado"], "range": [1.5, 2.1]}, "legend": null}
 }},
{"width": 228, "height": 180, "data": {"name": "p6"}, "mark": {"type": "line", "clip": true},
 "encoding": {
  "x": {"field": "t", "type": "quantitative", "scale": {"domain": [0, 65], "nice": false}, "axis": {"values": [0,10,20,30,40,50,60], "title": "[s]"}},
  "y": {"field": "v", "type": "quantitative", "scale": {"domain": [0.3, 0.48], "nice": false, "zero": false}, "axis": {"values": [0.3,0.35,0.4,0.45], "format": "~g", "title": "[pu]"}},
  "color": {"field": "s", "type": "nominal", "scale": {"domain": ["medido","simulado"], "range": ["#ff0000","#0000ff"]}, "legend": null},
  "strokeWidth": {"field": "s", "type": "nominal", "scale": {"domain": ["medido","simulado"], "range": [1.5, 2.1]}, "legend": null}
 }}
],
"config": {
 "view": {"stroke": null},
 "font": "Liberation Sans",
 "title": {"fontSize": 14.5, "fontWeight": "bold", "color": "#000", "offset": 2, "frame": "group", "anchor": "middle"},
 "axis": {"domainColor": "#000", "domainWidth": 1, "ticks": false, "labelFontSize": 10.5, "labelColor": "#222", "labelPadding": 3, "grid": true, "gridColor": "#000", "gridDash": [8, 4], "gridWidth": 1, "gridOpacity": 0.85, "titleFontSize": 10.5, "titleFontWeight": "bold", "titleColor": "#000", "labelFlush": false, "labelOverlap": false},
 "axisY": {"titlePadding": 6},
 "axisX": {"titlePadding": 4}
}
}
